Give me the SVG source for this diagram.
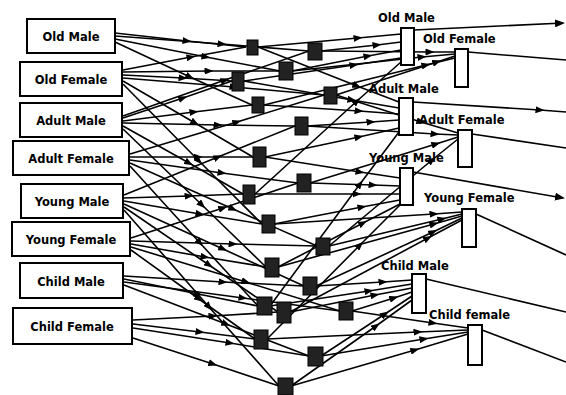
<svg xmlns="http://www.w3.org/2000/svg" width="566" height="395" viewBox="0 0 566 395">
<style>
.box{fill:#fff;stroke:#000;stroke-width:2}
.bar{fill:#fff;stroke:#000;stroke-width:2}
.hid{fill:#222;stroke:#000;stroke-width:1}
.t{font-family:"DejaVu Sans",sans-serif;font-weight:bold;font-size:11.5px;fill:#000}
.c{text-anchor:middle}
#connectors path{fill:none;stroke:#000;stroke-width:1.6;marker-mid:url(#ah)}
#exits path{fill:none;stroke:#000;stroke-width:1.6}
</style>
<defs>
<marker id="ah" markerUnits="userSpaceOnUse" markerWidth="9" markerHeight="7" refX="4.5" refY="3.5" orient="auto"><path d="M0,0 L9,3.5 L0,7 Z" fill="#000"/></marker>
<marker id="ae" markerUnits="userSpaceOnUse" markerWidth="10" markerHeight="8" refX="8" refY="4" orient="auto"><path d="M0,0 L10,4 L0,8 Z" fill="#000"/></marker>
</defs>
<g id="connectors">
<path d="M115,33 L187,41 L246,47"/>
<path d="M115,36 L222,44 L309,51"/>
<path d="M115,39 L206,57 L280,71"/>
<path d="M115,42 L190,77 L252,105"/>
<path d="M123,70 L191,57 L246,47"/>
<path d="M123,72 L209,71 L280,71"/>
<path d="M123,75 L183,78 L232,81"/>
<path d="M123,78 L234,87 L324,95"/>
<path d="M123,81 L195,123 L253,157"/>
<path d="M123,84 L199,161 L262,224"/>
<path d="M123,116 L225,80 L309,51"/>
<path d="M123,118 L183,98 L232,81"/>
<path d="M123,121 L194,112 L252,105"/>
<path d="M123,123 L218,125 L295,126"/>
<path d="M123,126 L189,163 L243,194"/>
<path d="M123,129 L202,205 L266,267"/>
<path d="M130,154 L237,122 L324,95"/>
<path d="M130,157 L198,157 L253,157"/>
<path d="M130,160 L222,173 L298,183"/>
<path d="M130,163 L233,209 L317,246"/>
<path d="M130,166 L200,243 L258,306"/>
<path d="M124,195 L218,157 L295,126"/>
<path d="M124,198 L189,196 L243,194"/>
<path d="M124,201 L200,214 L262,224"/>
<path d="M124,204 L223,249 L304,286"/>
<path d="M124,207 L209,265 L278,312"/>
<path d="M124,210 L209,307 L279,386"/>
<path d="M131,238 L223,208 L298,183"/>
<path d="M131,241 L233,244 L317,246"/>
<path d="M131,244 L205,257 L266,267"/>
<path d="M131,247 L246,282 L340,311"/>
<path d="M131,250 L199,299 L255,339"/>
<path d="M124,276 L223,282 L304,286"/>
<path d="M124,279 L198,294 L258,306"/>
<path d="M124,282 L243,298 L340,311"/>
<path d="M124,285 L226,324 L309,356"/>
<path d="M133,320 L213,316 L278,312"/>
<path d="M133,324 L200,332 L255,339"/>
<path d="M133,328 L230,343 L309,356"/>
<path d="M133,338 L213,364 L279,386"/>
<path d="M258,47 L358,38 L401,34"/>
<path d="M258,47 L357,86 L399,102"/>
<path d="M321,51 L377,45 L401,42"/>
<path d="M321,51 L430,52 L455,52"/>
<path d="M292,71 L422,57 L455,54"/>
<path d="M292,71 L368,56 L401,50"/>
<path d="M244,81 L354,65 L401,58"/>
<path d="M244,81 L352,100 L399,108"/>
<path d="M336,95 L437,62 L455,56"/>
<path d="M336,95 L421,122 L458,133"/>
<path d="M264,105 L359,111 L399,114"/>
<path d="M264,105 L426,65 L455,58"/>
<path d="M307,126 L371,122 L399,120"/>
<path d="M307,126 L435,134 L458,135"/>
<path d="M265,157 L359,137 L399,128"/>
<path d="M265,157 L360,172 L400,178"/>
<path d="M310,183 L436,144 L458,137"/>
<path d="M310,183 L373,185 L400,186"/>
<path d="M255,194 L357,194 L400,194"/>
<path d="M255,194 L357,101 L401,62"/>
<path d="M274,224 L362,207 L400,200"/>
<path d="M274,224 L434,214 L462,212"/>
<path d="M329,246 L442,219 L462,214"/>
<path d="M329,246 L432,160 L458,139"/>
<path d="M278,267 L434,224 L462,216"/>
<path d="M278,267 L363,223 L400,204"/>
<path d="M316,286 L433,232 L462,218"/>
<path d="M316,286 L383,282 L412,280"/>
<path d="M270,306 L369,291 L412,284"/>
<path d="M270,306 L360,184 L399,132"/>
<path d="M290,312 L375,295 L412,288"/>
<path d="M290,312 L428,238 L462,220"/>
<path d="M352,311 L433,323 L468,328"/>
<path d="M352,311 L394,298 L412,292"/>
<path d="M267,339 L418,332 L468,330"/>
<path d="M267,339 L360,245 L400,205"/>
<path d="M321,356 L424,339 L468,332"/>
<path d="M321,356 L385,314 L412,296"/>
<path d="M291,386 L376,326 L412,300"/>
<path d="M291,386 L415,350 L468,334"/>
</g>
<g id="exits">
<path d="M414,30 L563,23" marker-end="url(#ae)"/>
<path d="M468,52 L566,60"/>
<path d="M413,102 L540,110 L566,112" marker-mid="url(#ah)"/>
<path d="M472,134 L566,148"/>
<path d="M413,172 L563,198" marker-end="url(#ae)"/>
<path d="M476,214 L566,255"/>
<path d="M426,279 L566,312"/>
<path d="M482,330 L566,362"/>
</g>
<g id="in-old-male"><rect class="box" x="27" y="19" width="88" height="34"/><text class="t c" x="71" y="41">Old Male</text></g>
<g id="in-old-female"><rect class="box" x="20" y="62" width="102" height="34"/><text class="t c" x="71" y="84">Old Female</text></g>
<g id="in-adult-male"><rect class="box" x="20" y="103" width="102" height="34"/><text class="t c" x="71" y="125">Adult Male</text></g>
<g id="in-adult-female"><rect class="box" x="13" y="141" width="116" height="34"/><text class="t c" x="71" y="163">Adult Female</text></g>
<g id="in-young-male"><rect class="box" x="21" y="184" width="102" height="34"/><text class="t c" x="72" y="206">Young Male</text></g>
<g id="in-young-female"><rect class="box" x="12" y="222" width="118" height="34"/><text class="t c" x="71" y="244">Young Female</text></g>
<g id="in-child-male"><rect class="box" x="20" y="263" width="103" height="35"/><text class="t c" x="71" y="286">Child Male</text></g>
<g id="in-child-female"><rect class="box" x="13" y="308" width="119" height="36"/><text class="t c" x="72" y="331">Child Female</text></g>
<g id="hidden">
<rect id="h1" class="hid" x="247" y="40" width="11" height="15"/>
<rect id="h2" class="hid" x="308" y="43" width="14" height="17"/>
<rect id="h3" class="hid" x="279" y="62" width="14" height="18"/>
<rect id="h4" class="hid" x="232" y="72" width="12" height="19"/>
<rect id="h5" class="hid" x="324" y="87" width="13" height="17"/>
<rect id="h6" class="hid" x="252" y="97" width="12" height="16"/>
<rect id="h7" class="hid" x="295" y="117" width="13" height="18"/>
<rect id="h8" class="hid" x="253" y="147" width="13" height="20"/>
<rect id="h9" class="hid" x="297" y="174" width="14" height="18"/>
<rect id="h10" class="hid" x="243" y="185" width="12" height="19"/>
<rect id="h11" class="hid" x="262" y="215" width="13" height="18"/>
<rect id="h12" class="hid" x="316" y="238" width="14" height="17"/>
<rect id="h13" class="hid" x="265" y="258" width="14" height="19"/>
<rect id="h14" class="hid" x="303" y="277" width="14" height="18"/>
<rect id="h15" class="hid" x="257" y="297" width="15" height="18"/>
<rect id="h16" class="hid" x="277" y="302" width="14" height="21"/>
<rect id="h17" class="hid" x="339" y="302" width="14" height="18"/>
<rect id="h18" class="hid" x="254" y="330" width="14" height="19"/>
<rect id="h19" class="hid" x="308" y="347" width="15" height="19"/>
<rect id="h20" class="hid" x="278" y="378" width="15" height="17"/>
</g>
<g id="out-old-male"><rect class="bar" x="401" y="28" width="13" height="37"/><text class="t" x="378" y="22">Old Male</text></g>
<g id="out-old-female"><rect class="bar" x="455" y="49" width="13" height="38"/><text class="t" x="423" y="43">Old Female</text></g>
<g id="out-adult-male"><rect class="bar" x="399" y="98" width="14" height="37"/><text class="t" x="369" y="93">Adult Male</text></g>
<g id="out-adult-female"><rect class="bar" x="458" y="130" width="14" height="37"/><text class="t" x="419" y="124">Adult Female</text></g>
<g id="out-young-male"><rect class="bar" x="400" y="168" width="13" height="37"/><text class="t" x="369" y="162">Young Male</text></g>
<g id="out-young-female"><rect class="bar" x="462" y="209" width="14" height="38"/><text class="t" x="424" y="202">Young Female</text></g>
<g id="out-child-male"><rect class="bar" x="412" y="274" width="14" height="39"/><text class="t" x="381" y="270">Child Male</text></g>
<g id="out-child-female"><rect class="bar" x="468" y="325" width="14" height="40"/><text class="t" x="429" y="319">Child female</text></g>
</svg>
